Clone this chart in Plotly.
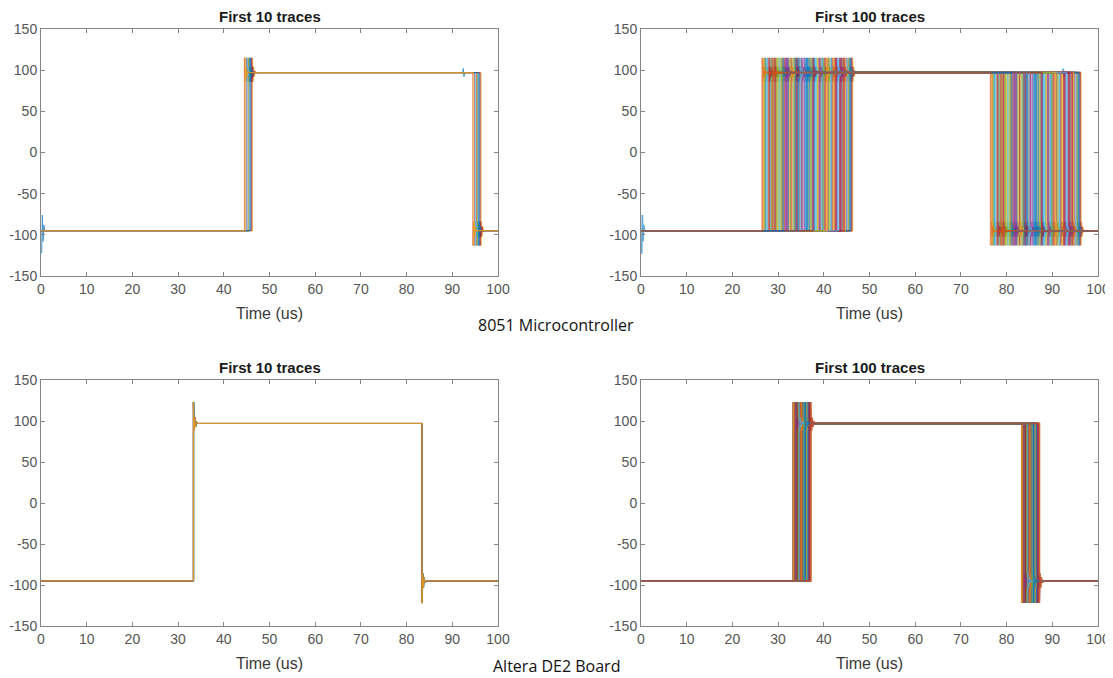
import plotly.graph_objects as go
from plotly.subplots import make_subplots

# ---------------- data ----------------
# MATLAB default colour order used for successive traces
line_colors = ["#0072BD", "#D95319", "#EDB120", "#7E2F8E", "#77AC30", "#4DBEEE", "#A2142F"]

x_tick_vals = [0, 10, 20, 30, 40, 50, 60, 70, 80, 90, 100]
y_tick_vals = [-150, -100, -50, 0, 50, 100, 150]

# 8051 microcontroller: one-trace waveform template (time relative to rising edge, us ; amplitude)
mcu_rise_us = 26.5
mcu_wave_t = [-60.0, 0.0, 0.0, 0.12, 0.25, 0.4, 0.6, 0.9, 50.0, 50.0, 50.12, 50.25, 50.4, 50.6, 50.9, 80.0]
mcu_wave_v = [-95, -95, 115, 86, 104, 92, 99, 97, 97, -113, -84, -102, -90, -96, -95, -95]
# misalignment (us) of each of the 100 traces
mcu_delay_us = [
    19.4, 18.8, 19.8, 18.4, 19.0, 18.6, 19.6, 19.2, 18.0, 18.2,
    12.4, 3.6, 16.8, 7.2, 0.8, 14.0, 10.2, 5.4, 17.6, 1.8,
    8.6, 13.2, 4.4, 15.6, 11.0, 2.6, 6.8, 17.0, 9.8, 0.4,
    14.8, 5.0, 12.0, 1.2, 16.2, 7.8, 3.0, 10.6, 17.9, 6.2,
    11.6, 2.2, 15.2, 8.2, 4.0, 13.6, 0.6, 9.4, 17.2, 5.8,
    12.8, 3.4, 16.4, 7.0, 1.0, 14.4, 10.0, 4.8, 15.8, 8.8,
    2.0, 13.0, 6.4, 11.4, 17.8, 0.2, 9.2, 14.6, 3.8, 16.0,
    7.4, 1.4, 12.2, 5.2, 10.8, 15.0, 2.8, 8.0, 13.8, 6.6,
    17.4, 4.2, 11.8, 1.6, 9.6, 15.4, 6.0, 12.6, 3.2, 16.6,
    7.6, 10.4, 2.4, 14.2, 5.6, 13.4, 8.4, 11.2, 4.6, 0.0,
]
# artefacts of the first trace (absolute time, us ; amplitude)
mcu_glitch_t = [0.15, 0.3, 0.45, 0.6, 0.8, 92.3, 92.4, 92.55, 92.7]
mcu_glitch_v = [-122, -76, -108, -88, -95, 97, 102, 92, 97]

# Altera DE2 board
alt_rise_us = 33.3
alt_wave_t = [-60.0, 0.0, 0.0, 0.15, 0.3, 0.45, 0.65, 1.0, 50.0, 50.0, 50.15, 50.3, 50.45, 50.65, 51.0, 80.0]
alt_wave_v = [-95, -95, 123, 88, 104, 93, 99, 97, 97, -122, -86, -103, -91, -97, -95, -95]
alt_delay_us = [
    0.06, 0.02, 0.10, 0.04, 0.12, 0.00, 0.08, 0.14, 0.03, 0.07,
    2.10, 0.65, 3.30, 1.45, 0.25, 2.75, 1.90, 0.95, 3.60, 1.20,
    2.45, 0.40, 3.05, 1.70, 0.80, 2.25, 3.75, 1.05, 2.90, 0.55,
    1.60, 3.45, 0.30, 2.60, 1.30, 3.15, 0.75, 2.00, 3.85, 1.10,
    2.35, 0.50, 3.55, 1.85, 0.20, 2.80, 1.40, 3.25, 0.90, 2.15,
    3.70, 1.25, 0.60, 2.50, 1.75, 3.00, 0.35, 2.70, 1.55, 3.40,
    0.85, 2.20, 3.65, 1.00, 2.95, 0.45, 1.95, 3.20, 0.70, 2.55,
    1.35, 3.50, 0.15, 2.30, 1.65, 3.10, 0.95, 2.85, 1.15, 3.80,
    2.05, 0.55, 3.35, 1.50, 2.65, 0.25, 1.80, 3.60, 1.05, 2.40,
    0.75, 3.15, 1.70, 2.90, 0.45, 2.25, 1.30, 3.45, 2.60, 3.90,
]

panel_titles = ["First 10 traces", "First 100 traces", "First 10 traces", "First 100 traces"]
panel_counts = [10, 100, 10, 100]
section_labels = ["8051 Microcontroller", "Altera DE2 Board"]
x_title = "Time (us)"

# ---------------- figure ----------------
PAGE_W, PAGE_H = 1113, 678
OFF = 8  # default page body margin
W, H = PAGE_W - OFF, PAGE_H - OFF
fig = make_subplots(rows=2, cols=2)

def trace_xy(rise, wt, wv, delay, extra_t=None, extra_v=None):
    pts = [(rise + delay + t, v) for t, v in zip(wt, wv)]
    if extra_t:
        pts += list(zip(extra_t, extra_v))
        pts = sorted(pts, key=lambda p: p[0])
    return [p[0] for p in pts], [p[1] for p in pts]

boards = [
    (mcu_rise_us, mcu_wave_t, mcu_wave_v, mcu_delay_us, mcu_glitch_t, mcu_glitch_v),
    (alt_rise_us, alt_wave_t, alt_wave_v, alt_delay_us, None, None),
]

for r, (rise, wt, wv, delays, gt, gv) in enumerate(boards, start=1):
    for c in (1, 2):
        n = panel_counts[(r - 1) * 2 + (c - 1)]
        op = 0.75 if n <= 10 else 0.6
        lw = 1.0 if n <= 10 else 1.6
        for i in range(n):
            xs, ys = trace_xy(rise, wt, wv, delays[i], gt if i == 0 else None, gv if i == 0 else None)
            fig.add_trace(
                go.Scatter(x=xs, y=ys, mode="lines", opacity=op,
                           line=dict(color=line_colors[i % len(line_colors)], width=lw),
                           showlegend=False, hoverinfo="skip"),
                row=r, col=c,
            )

# plot-area geometry (page pixels)
x_dom_px = [(41, 498), (641, 1098)]
y_dom_px = [(29, 276), (380, 626)]

def px_x(p):
    return (p - OFF) / W

def px_y(p):
    return 1 - (p - OFF) / H

axis_col = "#858585"
tick_font = dict(family="Liberation Sans, Arial, sans-serif", size=14, color="#555555")
for r in (1, 2):
    for c in (1, 2):
        x0, x1 = x_dom_px[c - 1]
        y0, y1 = y_dom_px[r - 1]
        fig.update_xaxes(domain=[px_x(x0), px_x(x1)], range=[0, 100], automargin=False,
                         tickmode="array", tickvals=x_tick_vals,
                         ticktext=[str(v) for v in x_tick_vals],
                         showline=True, linecolor=axis_col, linewidth=1, mirror="ticks",
                         ticks="inside", ticklen=4, tickcolor=axis_col,
                         showgrid=False, zeroline=False, tickfont=tick_font,
                         row=r, col=c)
        fig.update_yaxes(domain=[px_y(y1), px_y(y0)], range=[-150, 150], automargin=False,
                         tickmode="array", tickvals=y_tick_vals,
                         ticktext=[str(v) for v in y_tick_vals],
                         showline=True, linecolor=axis_col, linewidth=1, mirror="ticks",
                         ticks="inside", ticklen=4, tickcolor=axis_col,
                         showgrid=False, zeroline=False, tickfont=tick_font,
                         row=r, col=c)

annotations = []
for r in (1, 2):
    for c in (1, 2):
        x0, x1 = x_dom_px[c - 1]
        y0, y1 = y_dom_px[r - 1]
        xc = px_x((x0 + x1) / 2)
        annotations.append(dict(text="<b>" + panel_titles[(r - 1) * 2 + (c - 1)] + "</b>",
                                x=xc, y=px_y(y0 - 13), xref="paper", yref="paper",
                                xanchor="center", yanchor="middle", showarrow=False,
                                font=dict(family="Liberation Sans, Arial, sans-serif", size=15, color="#1a1a1a")))
        annotations.append(dict(text=x_title,
                                x=xc, y=px_y(y1 + 37), xref="paper", yref="paper",
                                xanchor="center", yanchor="middle", showarrow=False,
                                font=dict(family="Liberation Sans, Arial, sans-serif", size=16, color="#3a3a3a")))
section_y_px = [325, 666]
for lbl, ypx in zip(section_labels, section_y_px):
    annotations.append(dict(text=lbl, x=px_x(556), y=px_y(ypx), xref="paper", yref="paper",
                            xanchor="center", yanchor="middle", showarrow=False,
                            font=dict(family="Open Sans, Noto Sans, sans-serif", size=16, color="#111111")))

fig.update_layout(width=W, height=H, margin=dict(l=0, r=0, t=0, b=0),
                  paper_bgcolor="white", plot_bgcolor="white",
                  annotations=annotations, showlegend=False)

fig.write_html("out.html")
